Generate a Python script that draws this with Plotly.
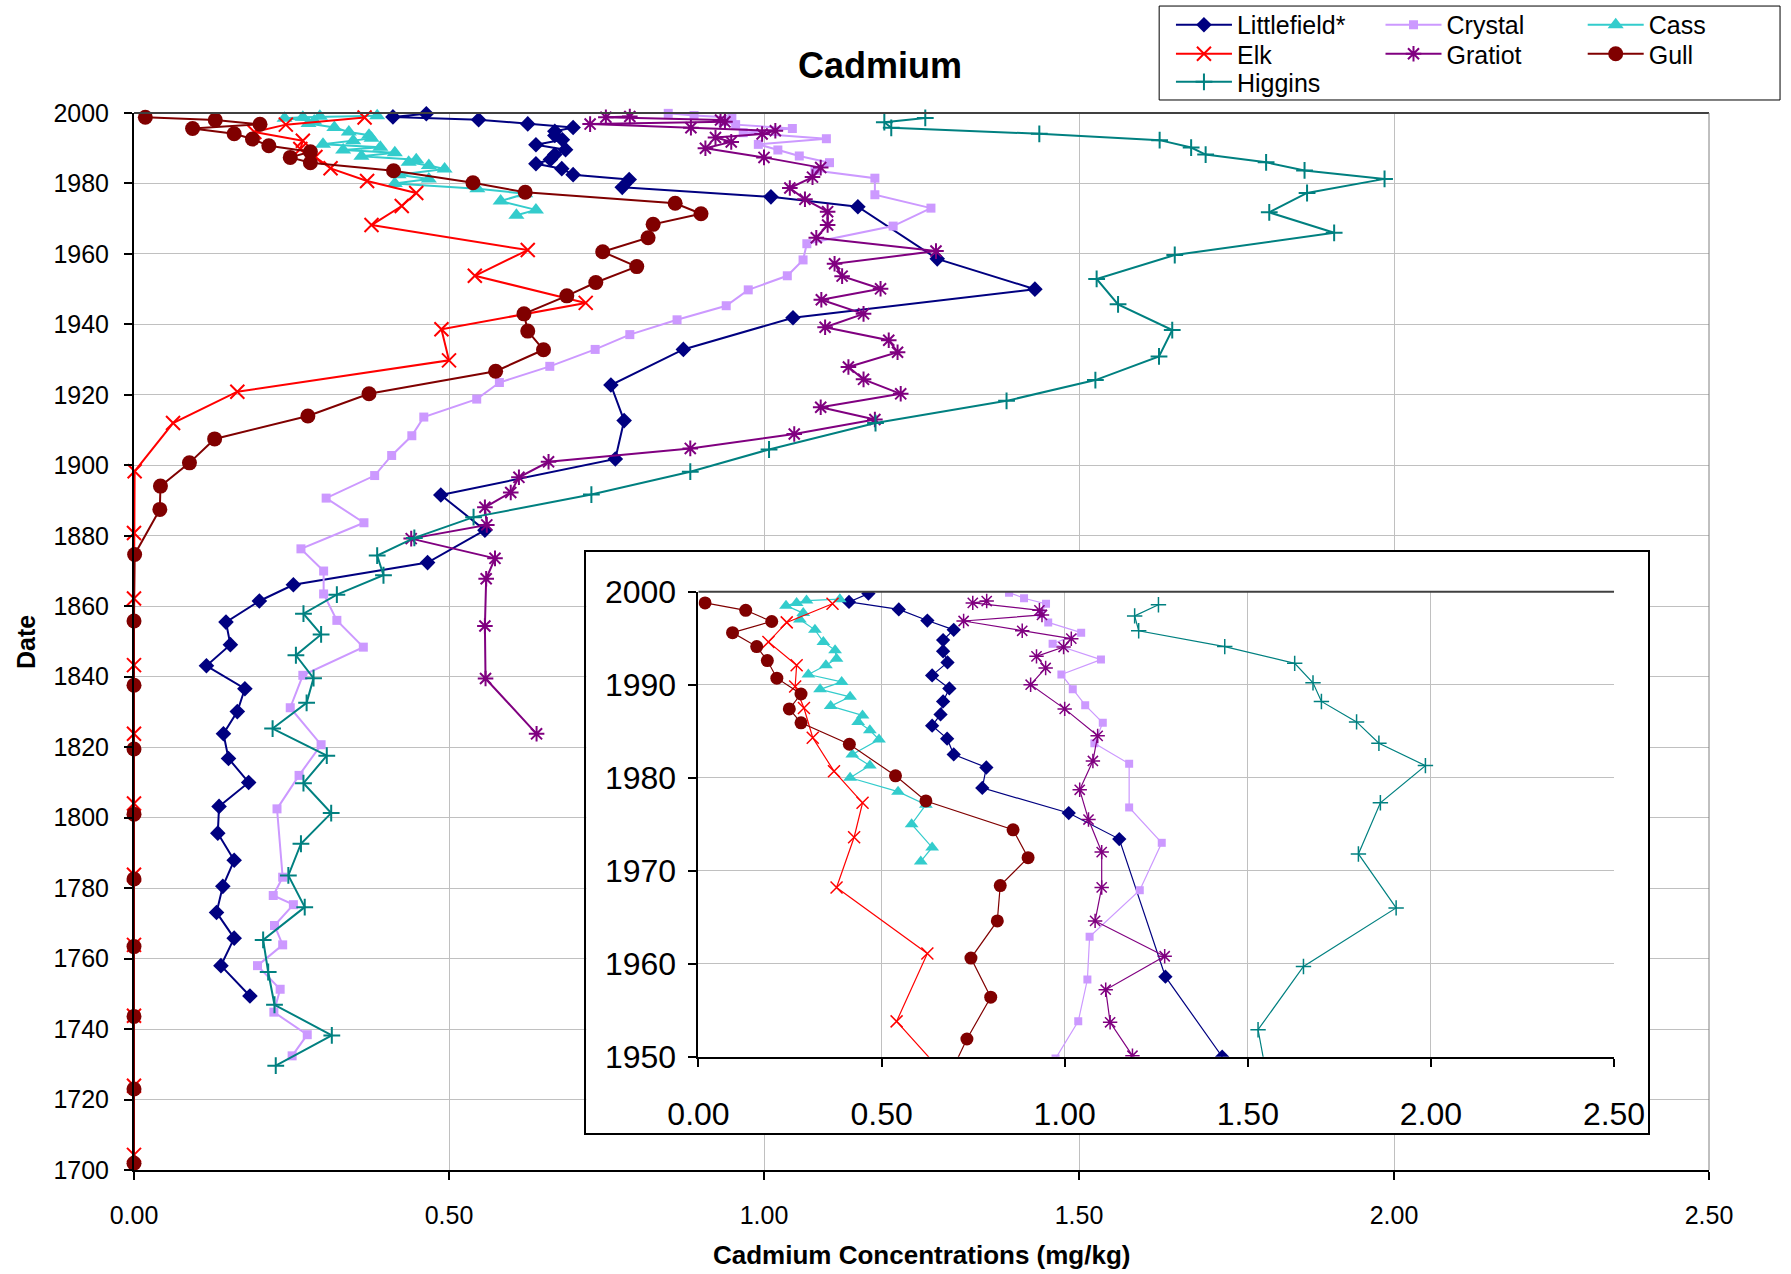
import plotly.graph_objects as go

FONT = "Liberation Sans, Arial, sans-serif"

# ---- core sample data: sediment date (year) and cadmium concentration (mg/kg) ----
littlefield_date = [1999.8, 1998.9, 1998.1, 1996.9, 1995.9, 1994.8, 1993.6, 1992.4, 1991.0, 1989.6,
                    1988.2, 1986.8, 1985.6, 1984.2, 1982.5, 1981.1, 1978.9, 1976.2, 1973.4, 1958.6,
                    1950.0, 1941.9, 1932.9, 1922.8, 1912.7, 1901.8, 1891.6, 1881.6, 1872.4, 1866.1,
                    1861.5, 1855.5, 1849.1, 1843.1, 1836.6, 1830.1, 1823.8, 1816.8, 1810.0, 1803.2,
                    1795.6, 1787.9, 1780.5, 1773.1, 1765.8, 1758.0, 1749.4]
littlefield_cd = [0.464, 0.411, 0.547, 0.625, 0.697, 0.668, 0.668, 0.680, 0.638, 0.685,
                  0.668, 0.661, 0.638, 0.679, 0.697, 0.786, 0.775, 1.011, 1.149, 1.275,
                  1.430, 1.046, 0.872, 0.757, 0.778, 0.764, 0.487, 0.557, 0.466, 0.253,
                  0.199, 0.146, 0.153, 0.115, 0.176, 0.164, 0.142, 0.150, 0.182, 0.135,
                  0.133, 0.159, 0.141, 0.131, 0.159, 0.138, 0.184]

crystal_date = [1999.9, 1999.3, 1998.7, 1997.6, 1996.7, 1995.6, 1994.4, 1992.7, 1991.1, 1989.5,
                1987.8, 1985.9, 1983.7, 1981.5, 1976.8, 1973.0, 1967.9, 1962.9, 1958.3, 1953.8,
                1949.8, 1945.3, 1941.3, 1937.1, 1932.9, 1928.1, 1923.5, 1918.8, 1913.7, 1908.4,
                1902.8, 1897.1, 1890.7, 1883.7, 1876.3, 1870.0, 1863.5, 1856.0, 1848.4, 1840.4,
                1831.2, 1820.7, 1812.0, 1802.5, 1783.1, 1777.9, 1775.3, 1769.4, 1763.9, 1758.0,
                1751.3, 1744.8, 1738.4, 1732.4]
crystal_cd = [0.848, 0.889, 0.949, 0.935, 0.955, 1.045, 0.967, 1.099, 0.991, 1.022,
              1.056, 1.104, 1.081, 1.176, 1.176, 1.265, 1.205, 1.068, 1.062, 1.037,
              0.975, 0.940, 0.862, 0.787, 0.732, 0.660, 0.580, 0.544, 0.460, 0.441,
              0.409, 0.382, 0.305, 0.365, 0.265, 0.301, 0.301, 0.322, 0.364, 0.268,
              0.248, 0.297, 0.262, 0.227, 0.236, 0.221, 0.253, 0.223, 0.236, 0.196,
              0.232, 0.222, 0.275, 0.251]

cass_date = [1999.2, 1999.05, 1998.8, 1998.5, 1997.7, 1997.0, 1995.9, 1994.6, 1993.7, 1992.8,
             1992.1, 1991.1, 1990.3, 1989.5, 1988.7, 1987.7, 1986.7, 1986.0, 1985.1, 1984.1,
             1982.5, 1981.3, 1980.0, 1978.5, 1977.1, 1975.0, 1972.5, 1971.0]
cass_cd = [0.386, 0.295, 0.268, 0.239, 0.286, 0.277, 0.318, 0.341, 0.373, 0.377,
           0.348, 0.300, 0.391, 0.332, 0.414, 0.361, 0.448, 0.436, 0.468, 0.493,
           0.420, 0.468, 0.414, 0.545, 0.621, 0.582, 0.638, 0.607]

elk_date = [1998.7, 1996.7, 1994.6, 1992.1, 1989.8, 1987.5, 1984.3, 1980.7, 1977.3, 1973.6,
            1968.2, 1961.1, 1953.8, 1946.1, 1938.6, 1929.8, 1920.9, 1912.0, 1898.3, 1880.8,
            1862.2, 1843.3, 1823.8, 1804.0, 1783.8, 1763.9, 1743.8, 1723.9, 1704.3]
elk_cd = [0.366, 0.241, 0.191, 0.268, 0.264, 0.288, 0.312, 0.370, 0.448, 0.425,
          0.377, 0.625, 0.541, 0.717, 0.488, 0.500, 0.164, 0.062, 0.001, 0.0,
          0.0, 0.0, 0.0, 0.0, 0.0, 0.0, 0.0, 0.0, 0.0]

gratiot_date = [1999.0, 1998.8, 1998.0, 1997.5, 1996.85, 1995.8, 1994.95, 1994.05, 1993.05, 1991.8,
                1990.0, 1987.4, 1984.5, 1981.8, 1978.7, 1975.5, 1972.0, 1968.2, 1964.6, 1960.8,
                1957.2, 1953.7, 1950.1, 1947.0, 1943.0, 1939.2, 1935.5, 1932.1, 1927.9, 1924.4,
                1920.3, 1916.5, 1913.0, 1908.9, 1904.8, 1901.0, 1896.6, 1892.3, 1888.1, 1883.1,
                1879.2, 1873.6, 1867.8, 1854.4, 1839.5, 1823.8]
gratiot_cd = [0.787, 0.749, 0.931, 0.938, 0.724, 0.884, 1.018, 0.997, 0.923, 0.948,
              0.907, 1.000, 1.090, 1.077, 1.041, 1.065, 1.101, 1.101, 1.083, 1.273,
              1.112, 1.124, 1.185, 1.091, 1.158, 1.097, 1.198, 1.212, 1.134, 1.158,
              1.217, 1.090, 1.176, 1.048, 0.883, 0.658, 0.611, 0.598, 0.557, 0.560,
              0.440, 0.573, 0.559, 0.557, 0.558, 0.639]

gull_date = [1998.8, 1998.0, 1996.8, 1995.6, 1994.1, 1992.6, 1990.7, 1989.0, 1987.4, 1985.9,
             1983.6, 1980.2, 1977.5, 1974.4, 1971.4, 1968.4, 1964.6, 1960.6, 1956.4, 1951.9,
             1948.1, 1943.0, 1938.1, 1932.8, 1926.7, 1920.3, 1914.0, 1907.5, 1900.7, 1894.1,
             1887.5, 1874.7, 1855.8, 1837.6, 1819.5, 1801.0, 1782.6, 1763.4, 1743.6, 1723.0,
             1701.9]
gull_cd = [0.018, 0.129, 0.200, 0.093, 0.159, 0.188, 0.214, 0.280, 0.248, 0.280,
           0.412, 0.538, 0.621, 0.859, 0.900, 0.824, 0.816, 0.744, 0.798, 0.733,
           0.687, 0.619, 0.625, 0.650, 0.574, 0.373, 0.276, 0.128, 0.088, 0.042,
           0.041, 0.001, 0.0, 0.0, 0.0, 0.0, 0.0, 0.0, 0.0, 0.0,
           0.0]

higgins_date = [1998.6, 1997.4, 1995.8, 1994.1, 1992.3, 1990.2, 1988.2, 1986.0, 1983.7, 1981.3,
                1977.3, 1971.8, 1966.0, 1959.7, 1952.9, 1945.7, 1938.4, 1930.9, 1924.2, 1918.3,
                1912.0, 1904.5, 1898.2, 1891.7, 1885.3, 1879.4, 1874.4, 1868.8, 1863.3, 1857.9,
                1852.0, 1846.1, 1839.6, 1832.6, 1825.3, 1817.6, 1809.8, 1801.3, 1792.6, 1783.6,
                1774.6, 1765.3, 1756.2, 1746.9, 1738.2, 1729.6]
higgins_cd = [1.256, 1.191, 1.202, 1.437, 1.628, 1.678, 1.701, 1.797, 1.858, 1.985,
              1.862, 1.802, 1.905, 1.652, 1.528, 1.562, 1.648, 1.627, 1.526, 1.385,
              1.177, 1.008, 0.883, 0.726, 0.539, 0.445, 0.386, 0.396, 0.322, 0.269,
              0.297, 0.257, 0.285, 0.274, 0.220, 0.306, 0.269, 0.313, 0.265, 0.245,
              0.271, 0.205, 0.213, 0.223, 0.314, 0.225]

# name, dates, values, colour, symbol, main size, inset size
SERIES = [
    ("Littlefield*", littlefield_date, littlefield_cd, "#000080", "diamond", 12, 11),
    ("Crystal", crystal_date, crystal_cd, "#CC99FF", "square", 9, 8),
    ("Cass", cass_date, cass_cd, "#33CCCC", "triangle-up", 14, 12),
    ("Elk", elk_date, elk_cd, "#FF0000", "x-thin-open", 14, 12),
    ("Gratiot", gratiot_date, gratiot_cd, "#800080", "asterisk-open", 13, 12),
    ("Gull", gull_date, gull_cd, "#800000", "circle", 15, 13),
    ("Higgins", higgins_date, higgins_cd, "#008080", "cross-thin-open", 12, 11),
]

# legend grid: three columns, filled row by row (positions in container fractions)
LEGEND_COL_X = [0.6538, 0.7708, 0.8837]
LEGEND_ROW_Y = [0.9804, 0.9576, 0.9356]

fig = go.Figure()

# main profile (1700-2000)
for i, (name, dates, vals, col, sym, s_main, s_ins) in enumerate(SERIES):
    fig.add_trace(go.Scatter(
        x=vals, y=dates, name=name, mode="lines+markers",
        line=dict(color=col, width=2),
        marker=dict(symbol=sym, size=s_main, color=col,
                    line=dict(width=2 if "open" in sym else 0, color=col)),
        xaxis="x", yaxis="y", legend="legend" if i == 0 else f"legend{i + 1}",
        cliponaxis=False,
    ))

# frame of the inset panel (empty subplot, white background)
fig.add_trace(go.Scatter(x=[None], y=[None], xaxis="x2", yaxis="y2",
                         showlegend=False, hoverinfo="skip"))

# inset: 1950-2000 detail
for name, dates, vals, col, sym, s_main, s_ins in SERIES:
    fig.add_trace(go.Scatter(
        x=vals, y=dates, name=name, mode="lines+markers", showlegend=False,
        line=dict(color=col, width=1.2),
        marker=dict(symbol=sym, size=s_ins, color=col,
                    line=dict(width=1.5 if "open" in sym else 0, color=col)),
        xaxis="x3", yaxis="y3",
    ))

GRID = "#C0C0C0"
tick_font = dict(family=FONT, size=25, color="black")
inset_font = dict(family=FONT, size=32, color="black")

legends = {}
for i in range(len(SERIES)):
    key = "legend" if i == 0 else f"legend{i + 1}"
    legends[key] = dict(
        x=LEGEND_COL_X[i % 3], y=LEGEND_ROW_Y[i // 3],
        xref="container", yref="container", xanchor="left", yanchor="middle",
        font=dict(family=FONT, size=25, color="black"),
        bgcolor="rgba(0,0,0,0)", borderwidth=0, itemwidth=56,
    )

fig.update_layout(
    width=1791, height=1274, autosize=False,
    margin=dict(l=134, r=82, t=113, b=104, autoexpand=False),
    paper_bgcolor="white", plot_bgcolor="white",
    font=dict(family=FONT, color="black"),
    showlegend=True,
    xaxis=dict(
        domain=[0, 1], anchor="y", range=[0, 2.5], tick0=0, dtick=0.5, tickformat=".2f",
        showgrid=True, gridcolor=GRID, gridwidth=1, zeroline=False,
        showline=True, linecolor="black", linewidth=2,
        ticks="outside", ticklen=8, tickwidth=1.5, tickcolor="black",
        tickfont=tick_font, ticklabelstandoff=14,
    ),
    yaxis=dict(
        domain=[0, 1], anchor="x", range=[1700, 2000], tick0=1700, dtick=20,
        showgrid=True, gridcolor=GRID, gridwidth=1, zeroline=False,
        showline=True, linecolor="black", linewidth=2,
        ticks="outside", ticklen=8, tickwidth=1.5, tickcolor="black",
        tickfont=tick_font, ticklabelstandoff=10,
    ),
    xaxis2=dict(
        domain=[0.2872, 0.9613], anchor="y2", range=[0, 1],
        showgrid=False, zeroline=False, showticklabels=False, ticks="",
        showline=True, mirror=True, linecolor="black", linewidth=1.5, fixedrange=True,
    ),
    yaxis2=dict(
        domain=[0.035, 0.5847], anchor="x2", range=[0, 1],
        showgrid=False, zeroline=False, showticklabels=False, ticks="",
        showline=True, mirror=True, linecolor="black", linewidth=1.5, fixedrange=True,
    ),
    xaxis3=dict(
        domain=[0.3584, 0.9397], anchor="y3", range=[0, 2.5], tick0=0, dtick=0.5, tickformat=".2f",
        showgrid=True, gridcolor=GRID, gridwidth=1, zeroline=False,
        showline=True, linecolor="black", linewidth=2,
        ticks="outside", ticklen=8, tickwidth=1.5, tickcolor="black",
        tickfont=inset_font, ticklabelstandoff=20,
    ),
    yaxis3=dict(
        domain=[0.1072, 0.5471], anchor="x3", range=[1950, 2000], tick0=1950, dtick=10,
        showgrid=True, gridcolor=GRID, gridwidth=1, zeroline=False,
        showline=True, linecolor="black", linewidth=2,
        ticks="outside", ticklen=8, tickwidth=1.5, tickcolor="black",
        tickfont=inset_font, ticklabelstandoff=6,
    ),
    shapes=[
        # plot-area border (top and right)
        dict(type="line", xref="paper", yref="paper", x0=0, x1=1, y0=1, y1=1,
             line=dict(color="#404040", width=2), layer="above"),
        dict(type="line", xref="paper", yref="paper", x0=1, x1=1, y0=0, y1=1,
             line=dict(color="#808080", width=1), layer="above"),
        # inset border (top)
        dict(type="line", xref="x3 domain", yref="y3 domain", x0=0, x1=1, y0=1, y1=1,
             line=dict(color="#404040", width=2), layer="above"),
        # legend frame
        dict(type="rect", xref="paper", yref="paper", x0=0.6509, x1=1.0451, y0=1.0123, y1=1.1012,
             line=dict(color="black", width=1), fillcolor="rgba(0,0,0,0)", layer="above"),
    ],
    annotations=[
        dict(text="<b>Cadmium</b>", xref="paper", yref="paper", x=0.4738, y=1.0454,
             xanchor="center", yanchor="middle", showarrow=False,
             font=dict(family=FONT, size=36, color="black")),
        dict(text="<b>Cadmium Concentrations (mg/kg)</b>", xref="paper", yref="paper",
             x=0.5, y=-0.0804, xanchor="center", yanchor="middle", showarrow=False,
             font=dict(family=FONT, size=26, color="black")),
        dict(text="<b>Date</b>", xref="paper", yref="paper", x=-0.0689, y=0.5,
             xanchor="center", yanchor="middle", textangle=-90, showarrow=False,
             font=dict(family=FONT, size=25, color="black")),
    ],
    **legends,
)

fig.write_html("out.html")
